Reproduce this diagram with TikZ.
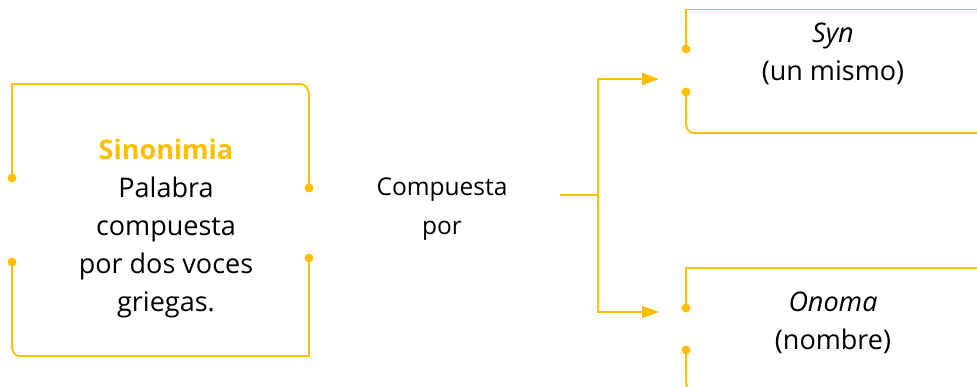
\documentclass[tikz,border=0pt]{standalone}
\usepackage{fontspec}
\setmainfont{Open Sans}
\usetikzlibrary{arrows.meta,positioning}
\definecolor{gold}{RGB}{255,190,0}

\tikzset{
  frame/.style={draw=gold, line width=1.9pt},
  knob/.style={fill=gold},
  txt/.style={align=center, inner sep=0pt, font=\fontsize{27}{38}\selectfont},
  link/.style={frame, -{Triangle[length=17pt,width=12pt]}}
}

\begin{document}
\begin{tikzpicture}[x=1pt,y=-1pt]
\useasboundingbox (0,0) rectangle (977,387);

% Draw text nodes
\node[txt] (sino) at (166,228) {\textcolor{gold}{\textbf{Sinonimia}}\\Palabra\\compuesta\\por dos voces\\griegas.};
\node[txt, font=\fontsize{24.5}{39}\selectfont] (comp) at (442,209) {Compuesta\\por};
\node[txt] (syn) at (833,54) {\textit{Syn}\\(un mismo)};
\node[txt] (onoma) at (833,323) {\textit{Onoma}\\(nombre)};

% Draw frame round the left box
\draw[frame] (12,178) -- (12,84) -- (299,84) .. controls (306,84) and (309,88) .. (309,97) -- (309,188);
\draw[frame] (12,262) -- (12,344) .. controls (12,352) and (14,356) .. (21,356) -- (309,356) -- (309,258);
\foreach \p in {(12,178),(309,188),(12,262),(309,258)}
  \fill[knob] \p circle (4.5);

% Draw frames of the right boxes
\draw[frame] (686,49) -- (686,9.5) -- (977,9.5);
\draw[frame] (686,92) -- (686,122) .. controls (686,129) and (688,133) .. (695,133) -- (977,133);
\draw[frame] (686,308) -- (686,268) -- (977,268);
\draw[frame] (686,350) -- (686,380) .. controls (686,385) and (687,388) .. (690,392);
\foreach \p in {(686,49),(686,92),(686,308),(686,350)}
  \fill[knob] \p circle (4.5);

% Draw connectors
\coordinate (start) at (560,195);
\coordinate (fork) at (598,195);
\coordinate (tosyn) at (659,79);
\coordinate (toonoma) at (659,312);
\draw[frame] (start) -- (fork);
\draw[link] (fork) |- (tosyn);
\draw[link] (fork) |- (toonoma);
\end{tikzpicture}
\end{document}
